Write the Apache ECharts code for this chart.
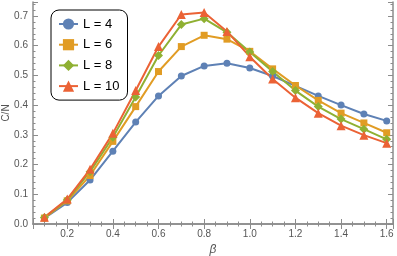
<!DOCTYPE html>
<html>
<head>
<meta charset="utf-8">
<script src="https://cdn.jsdelivr.net/npm/echarts@6/dist/echarts.min.js"></script>
<style>html,body{margin:0;padding:0;background:#fff}#c{width:397px;height:256px}</style>
</head>
<body>
<div id="c"></div>
<script>
var beta = [0.1,0.2,0.3,0.4,0.5,0.6,0.7,0.8,0.9,1.0,1.1,1.2,1.3,1.4,1.5,1.6];
var L4  = [0.020,0.072,0.148,0.245,0.343,0.431,0.498,0.532,0.541,0.525,0.498,0.465,0.431,0.400,0.370,0.347];
var L6  = [0.020,0.078,0.163,0.278,0.395,0.513,0.597,0.635,0.622,0.581,0.522,0.466,0.416,0.373,0.340,0.307];
var L8  = [0.022,0.081,0.176,0.292,0.427,0.567,0.671,0.691,0.645,0.579,0.513,0.449,0.395,0.353,0.319,0.285];
var L10 = [0.023,0.084,0.184,0.305,0.449,0.597,0.705,0.712,0.648,0.563,0.488,0.425,0.373,0.331,0.299,0.272];
var seriesNames = ['L = 4','L = 6','L = 8','L = 10'];
var xTicks = ['0.2','0.4','0.6','0.8','1.0','1.2','1.4','1.6'];
var yTicks = ['0.0','0.1','0.2','0.3','0.4','0.5','0.6','0.7'];

var XMIN = 0.05, XMAX = 1.6276, YMIN = 0, YMAX = 0.747;
var frameColor = '#8c8c8c';
var labelColor = '#555';
var font = 'Liberation Sans, Arial, sans-serif';

function pairs(vals){ return beta.map(function(b,i){ return [b, vals[i]]; }); }
function fmt(list){
  return function(v){
    for (var i=0;i<list.length;i++){ if (Math.abs(parseFloat(list[i]) - v) < 1e-6) return list[i]; }
    return '';
  };
}
function xAx(pos, major, labels){
  var a = {
    type:'value', position:pos, min:XMIN, max:XMAX,
    splitLine:{show:false},
    axisLine:{show:major, lineStyle:{color:frameColor, width:1.5}},
    axisTick:{show:true, inside:true, length:major?5:2.5, lineStyle:{color:frameColor, width:1}},
    axisLabel:{show:labels, formatter:fmt(xTicks), color:labelColor, fontSize:10, fontFamily:font, margin:5, showMinLabel:true, showMaxLabel:true}
  };
  if (major) a.splitNumber = 8; else a.interval = 0.05;
  return a;
}
function yAx(pos, major, labels){
  var a = {
    type:'value', position:pos, min:YMIN, max:YMAX,
    interval: major?0.1:0.02,
    splitLine:{show:false},
    axisLine:{show:major, lineStyle:{color:frameColor, width:1.5}},
    axisTick:{show:true, inside:true, length:major?5:2.5, lineStyle:{color:frameColor, width:1}},
    axisLabel:{show:labels, formatter:fmt(yTicks), color:labelColor, fontSize:10, fontFamily:font, margin:5}
  };
  return a;
}
var xAxes = [xAx('bottom',true,true), xAx('bottom',false,false), xAx('top',true,false), xAx('top',false,false)];
xAxes[0].name = 'β';
xAxes[0].nameLocation = 'middle';
xAxes[0].nameGap = 16;
xAxes[0].nameTextStyle = {color:labelColor, fontSize:12, fontStyle:'italic', fontFamily:font};
var yAxes = [yAx('left',true,true), yAx('left',false,false), yAx('right',true,false), yAx('right',false,false)];
yAxes[0].name = 'C/N';
yAxes[0].nameLocation = 'middle';
yAxes[0].nameGap = 22;
yAxes[0].nameMoveOverlap = false;
yAxes[0].nameTextStyle = {color:labelColor, fontSize:10, fontFamily:font};

var colors = ['#5E81B5','#E19C24','#8FB032','#EB6235'];
var symbols = ['circle','rect','diamond','triangle'];
var sizes = [7,7,9,9];
var vals = [L4,L6,L8,L10];
var series = vals.map(function(v,i){
  return {
    name: seriesNames[i], type:'line', data: pairs(v),
    xAxisIndex:0, yAxisIndex:0,
    symbol: symbols[i], symbolSize: sizes[i],
    lineStyle:{color:colors[i], width:2},
    itemStyle:{color:colors[i]},
    emphasis:{disabled:true},
    animation:false
  };
});

var chart = echarts.init(document.getElementById('c'), null, {renderer:'canvas'});
chart.setOption({
  animation:false,
  color: colors,
  grid:{left:33, right:4, top:2, bottom:32, containLabel:false, outerBoundsMode:'none'},
  xAxis: xAxes,
  yAxis: yAxes,
  legend:{
    show:true, orient:'vertical', left:51, top:10,
    data: seriesNames,
    itemWidth:19, itemHeight:14, itemGap:7.7,
    padding:[7.5,8,7.5,7],
    borderColor:'#000', borderWidth:1, borderRadius:8,
    backgroundColor:'#fff',
    textStyle:{color:'#000', fontSize:13, fontFamily:font}
  },
  series: series
});
</script>
</body>
</html>
